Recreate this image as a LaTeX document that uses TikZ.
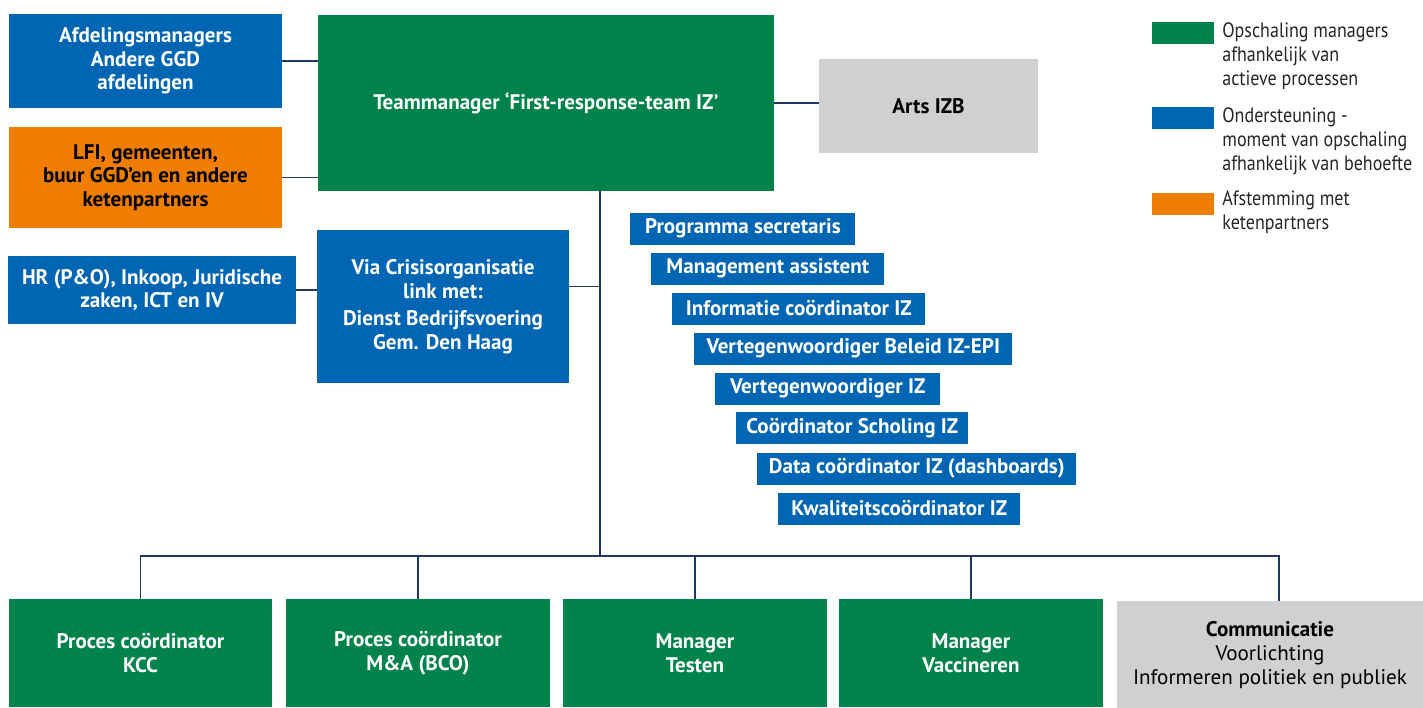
\documentclass[tikz,border=0pt]{standalone}
\usepackage{fontspec}
\setmainfont{PT Sans}
\newfontfamily\legendfont{PT Sans}[FakeStretch = 0.87]
\usepackage{tikz}
\usetikzlibrary{shapes}
\usepackage{xcolor}
\definecolor{ggdgreen}{RGB}{0,131,74}
\definecolor{ggdblue}{RGB}{0,101,179}
\definecolor{ggdorange}{RGB}{239,125,0}
\definecolor{ggdgrey}{RGB}{208,208,210}
\definecolor{linkblue}{RGB}{30,55,100}

\begin{document}
\begin{tikzpicture}[x = 0.02cm, y = -0.02cm,
  box/.style = {rectangle, inner sep = 0pt, align = center,
                font = \bfseries\fontsize{12}{13.5}\selectfont},
  mgrbox/.style = {box, fill = ggdgreen, text = white},
  supbox/.style = {box, fill = ggdblue, text = white},
  ketenbox/.style = {box, fill = ggdorange, text = black},
  greybox/.style = {box, fill = ggdgrey, text = black},
  tagbox/.style = {supbox, anchor = west, minimum height = 0.64cm},
  legsq/.style = {rectangle, inner sep = 0pt, minimum width = 1.24cm, minimum height = 0.44cm},
  legtext/.style = {anchor = north west, inner sep = 0pt, align = left, text = black!85,
                    font = \legendfont\fontsize{11.8}{13.7}\selectfont},
  link/.style = {draw = linkblue, line width = 0.8pt}]
\useasboundingbox (0, 0) rectangle (1423, 707);

% top row
\node[supbox, minimum width = 5.46cm, minimum height = 1.88cm] (afd) at (145.5, 61)
  {Afdelingsmanagers\\Andere GGD\\afdelingen};
\node[ketenbox, minimum width = 5.46cm, minimum height = 2.02cm] (lfi) at (145.5, 177.5)
  {LFI, gemeenten,\\buur GGD’en en andere\\ketenpartners};
\node[supbox, minimum width = 5.76cm, minimum height = 1.36cm] (hr) at (152, 290)
  {HR (P\&O), Inkoop, Juridische\\zaken, ICT en IV};
\node[mgrbox, minimum width = 9.12cm, minimum height = 3.52cm] (team) at (546, 103)
  {Teammanager ‘First-response-team IZ’};
\node[greybox, minimum width = 4.38cm, minimum height = 1.88cm] (arts) at (928.5, 106)
  {Arts IZB};
\node[supbox, minimum width = 5.04cm, minimum height = 3.06cm] (via) at (443, 306.5)
  {Via Crisisorganisatie\\link met:\\[2pt]Dienst Bedrijfsvoering\\Gem. Den Haag};

% staff
\node[tagbox, minimum width = 4.50cm] (prog) at (630, 228.5) {Programma secretaris};
\node[tagbox, minimum width = 4.66cm] (mass) at (651, 268.5) {Management assistent};
\node[tagbox, minimum width = 5.06cm] (info) at (672, 308.5) {Informatie coördinator IZ};
\node[tagbox, minimum width = 6.36cm] (vbel) at (694, 348.5) {Vertegenwoordiger Beleid IZ-EPI};
\node[tagbox, minimum width = 4.50cm] (vert) at (715, 388.5) {Vertegenwoordiger IZ};
\node[tagbox, minimum width = 4.64cm] (scho) at (736, 428) {Coördinator Scholing IZ};
\node[tagbox, minimum width = 6.38cm] (data) at (757, 468.5) {Data coördinator IZ (dashboards)};
\node[tagbox, minimum width = 4.84cm] (kwal) at (778, 508.5) {Kwaliteitscoördinator IZ};

% bottom row
\node[mgrbox, minimum width = 5.26cm, minimum height = 2.16cm] (kcc) at (140.5, 653)
  {Proces coördinator\\KCC};
\node[mgrbox, minimum width = 5.28cm, minimum height = 2.16cm] (bco) at (418, 653)
  {Proces coördinator\\M\&A (BCO)};
\node[mgrbox, minimum width = 5.28cm, minimum height = 2.16cm] (test) at (695, 653)
  {Manager\\Testen};
\node[mgrbox, minimum width = 5.28cm, minimum height = 2.16cm] (vacc) at (971, 653)
  {Manager\\Vaccineren};
\node[greybox, minimum width = 6.12cm, minimum height = 2.16cm] (comm) at (1270, 655)
  {Communicatie\\\mdseries Voorlichting\\\mdseries Informeren politiek en publiek};

% legend
\node[legsq, fill = ggdgreen] (leg1) at (1183, 33) {};
\node[legsq, fill = ggdblue] (leg2) at (1183, 118) {};
\node[legsq, fill = ggdorange] (leg3) at (1183, 203.5) {};
\node[legtext] (legt1) at (1222, 22) {Opschaling managers\\afhankelijk van\\actieve processen};
\node[legtext] (legt2) at (1222, 107) {Ondersteuning -\\moment van opschaling\\afhankelijk van behoefte};
\node[legtext] (legt3) at (1222, 190) {Afstemming met\\ketenpartners};

% lines
\coordinate (trunk) at (600, 191);
\coordinate (bus) at (600, 556);
\coordinate (vj) at ([yshift = 4mm]via.east);
\draw[link] (afd) -- (afd -| team.west);
\draw[link] (lfi) -- (lfi -| team.west);
\draw[link] (hr) -- (hr -| via.west);
\draw[link] (team) -- (team -| arts.west);
\draw[link] (vj) -- (vj -| trunk);
\draw[link] (trunk) -- (bus);
\draw[link] (kcc.north) |- (bus);
\draw[link] (bco.north) |- (bus);
\draw[link] (test.north) |- (bus);
\draw[link] (vacc.north) |- (bus);
\draw[link] ([xshift = 1.8mm]comm.north) |- (bus);
\end{tikzpicture}
\end{document}
